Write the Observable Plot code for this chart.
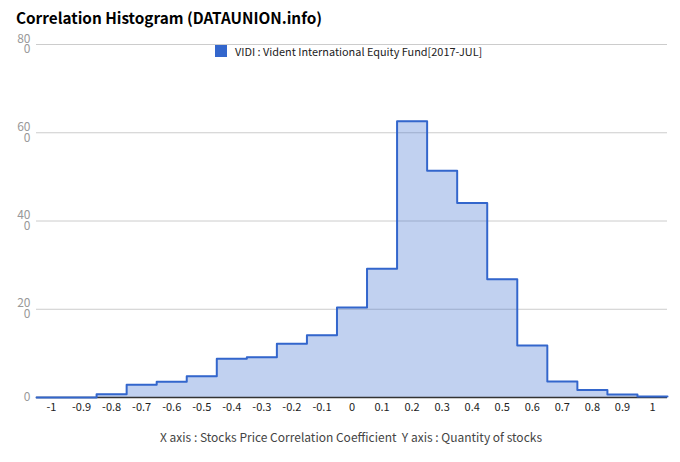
<!DOCTYPE html>
<html>
<head>
<meta charset="utf-8">
<script src="https://cdn.jsdelivr.net/npm/d3@7"></script>
<script src="https://cdn.jsdelivr.net/npm/@observablehq/plot@0.6"></script>
<style>
  body { margin: 0; background: #fff; }
  #wrap { position: relative; width: 680px; height: 462px; font-family: "Noto Sans CJK KR", "Noto Sans", sans-serif; }
  #title { position: absolute; left: 16px; top: 6px; font-size: 15.3px; font-weight: bold; color: #000; }
  #legend { position: absolute; left: 215px; top: 43px; font-size: 10.9px; color: #222; display: flex; align-items: center; }
  #legend .sw { width: 12px; height: 12px; background: #3366cc; margin-right: 8px; }
  #caption { position: absolute; left: 0; width: 702px; top: 428px; text-align: center; font-size: 12px; color: #444; white-space: pre; }
  svg { position: absolute; left: 0; top: 0; }
</style>
</head>
<body>
<div id="wrap">
  <div id="chart"></div>
  <div id="title">Correlation Histogram (DATAUNION.info)</div>
  <div id="legend"><div class="sw"></div><span>VIDI : Vident International Equity Fund[2017-JUL]</span></div>
  <div id="caption">X axis : Stocks Price Correlation Coefficient  Y axis : Quantity of stocks</div>
</div>
<script>
const binCenters = [-1, -0.9, -0.8, -0.7, -0.6, -0.5, -0.4, -0.3, -0.2, -0.1, 0, 0.1, 0.2, 0.3, 0.4, 0.5, 0.6, 0.7, 0.8, 0.9, 1];
const counts = [0, 0, 0.75, 2.9, 3.55, 4.8, 8.8, 9.1, 12.2, 14.1, 20.4, 29.2, 62.6, 51.4, 44.1, 26.8, 11.8, 3.6, 1.7, 0.7, 0.25];
const xTicks = [-1, -0.9, -0.8, -0.7, -0.6, -0.5, -0.4, -0.3, -0.2, -0.1, 0, 0.1, 0.2, 0.3, 0.4, 0.5, 0.6, 0.7, 0.8, 0.9, 1];
const xTickLabels = ["-1", "-0.9", "-0.8", "-0.7", "-0.6", "-0.5", "-0.4", "-0.3", "-0.2", "-0.1", "0", "0.1", "0.2", "0.3", "0.4", "0.5", "0.6", "0.7", "0.8", "0.9", "1"];
const yTicks = [0, 20, 40, 60, 80];
const yTickLabels = ["0", "20\n0", "40\n0", "60\n0", "80\n0"];

const halfWidth = 0.05;
const steps = binCenters.map((c, i) => ({x: c - halfWidth, y: counts[i]}));
steps.push({x: binCenters[binCenters.length - 1] + halfWidth, y: counts[counts.length - 1]});
const yLabelData = yTicks.map((v, i) => ({v, t: yTickLabels[i]}));

const chart = Plot.plot({
  width: 680,
  height: 462,
  marginLeft: 36,
  marginRight: 13,
  marginTop: 44,
  marginBottom: 65,
  style: {fontFamily: "'Noto Sans CJK KR', 'Noto Sans', sans-serif", background: "transparent"},
  x: {domain: [-1.05, 1.05], axis: null},
  y: {domain: [0, 80], axis: null},
  marks: [
    Plot.gridY(yTicks.filter(d => d > 0), {stroke: "#cccccc", strokeOpacity: 1, strokeWidth: 1}),
    Plot.areaY(steps, {x: "x", y: "y", curve: "step-after", fill: "#3366cc", fillOpacity: 0.3}),
    Plot.ruleY([0], {stroke: "#333333", strokeWidth: 1.5}),
    Plot.lineY(steps, {x: "x", y: "y", curve: "step-after", stroke: "#3366cc", strokeWidth: 2, strokeLinejoin: "round"}),
    Plot.axisX(xTicks, {tickSize: 0, tickPadding: 6, tickFormat: (d, i) => xTickLabels[i], fontSize: 11, fill: "#222", label: null}),
    Plot.text(yLabelData, {y: "v", text: "t", frameAnchor: "left", textAnchor: "end", dx: -6, fontSize: 12, fill: "#999", lineHeight: 0.9})
  ]
});
document.getElementById("chart").appendChild(chart);
</script>
</body>
</html>
